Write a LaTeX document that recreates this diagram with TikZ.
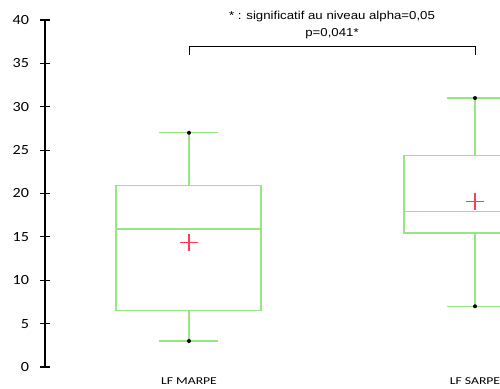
\documentclass[tikz,border=0pt]{standalone}
\usepackage{fontspec}
\usepackage{tikz}
\newfontfamily\tickfont[FakeStretch=1.15]{Carlito}
\newfontfamily\catfont[FakeStretch=1.3]{Carlito}
\newfontfamily\notefont[FakeStretch=1.15]{Liberation Sans}
\definecolor{boxgreen}{RGB}{150,230,130}
\definecolor{meanred}{RGB}{255,60,80}
\tikzset{
  boxline/.style={draw=boxgreen,line width=1.2pt},
  meanmark/.style={draw=meanred,line width=1.2pt},
  extreme/.style={fill=black},
}

\begin{document}
\begin{tikzpicture}[x=1pt,y=8.675pt]
    \useasboundingbox (0,-2.4207) rectangle (500,42.305);
    \clip (0,-2.4207) rectangle (500,42.305);
    % axe vertical
    \begin{scope}[line width=1.2pt,font=\tickfont\fontsize{14}{14}\selectfont]
    \draw (45,0) -- (45,40);
    \foreach \v in {0,5,...,40}
        \draw (40,\v) -- (50,\v) node [pos=0,left=7pt] {\v};
    \end{scope}
    % LF MARPE
    \draw [boxline] (159,27) -- (218,27);
    \draw [boxline] (189,27) -- (189,20.9);
    \draw [boxline] (116,6.5) rectangle (261,20.9);
    \draw [boxline] (116,15.9) -- (261,15.9);
    \draw [boxline] (189,6.5) -- (189,3);
    \draw [boxline] (159,3) -- (218,3);
    \draw [meanmark] (180,14.35) -- (198,14.35) (189,13.35) -- (189,15.35);
    \path [extreme] (189,27) circle (2pt);
    \path [extreme] (189,3) circle (2pt);
    \node [font=\catfont\fontsize{10.5}{10.5}\selectfont] (marpe) at (189,-1.6) {LF MARPE};
    % LF SARPE
    \draw [boxline] (447,31) -- (506,31);
    \draw [boxline] (475,31) -- (475,24.4);
    \draw [boxline] (404,15.45) rectangle (546,24.4);
    \draw [boxline] (404,17.95) -- (546,17.95);
    \draw [boxline] (475,15.45) -- (475,7);
    \draw [boxline] (447,7) -- (506,7);
    \draw [meanmark] (466,19.1) -- (484,19.1) (475,18.1) -- (475,20.1);
    \path [extreme] (475,31) circle (2pt);
    \path [extreme] (475,7) circle (2pt);
    \node [font=\catfont\fontsize{10.5}{10.5}\selectfont] (sarpe) at (475,-1.6) {LF SARPE};
    % test
    \coordinate (g) at (189,36);
    \coordinate (d) at (475,36);
    \draw [line width=1pt] (g) -- ++(0,0.92) -| (d);
    \node [font=\notefont\fontsize{11.5}{11.5}\selectfont] (alpha) at (332,40.4) {* : significatif au niveau alpha=0,05};
    \node [font=\notefont\fontsize{11.5}{11.5}\selectfont] (pval) at (332,38.4) {p=0,041*};
\end{tikzpicture}
\end{document}
